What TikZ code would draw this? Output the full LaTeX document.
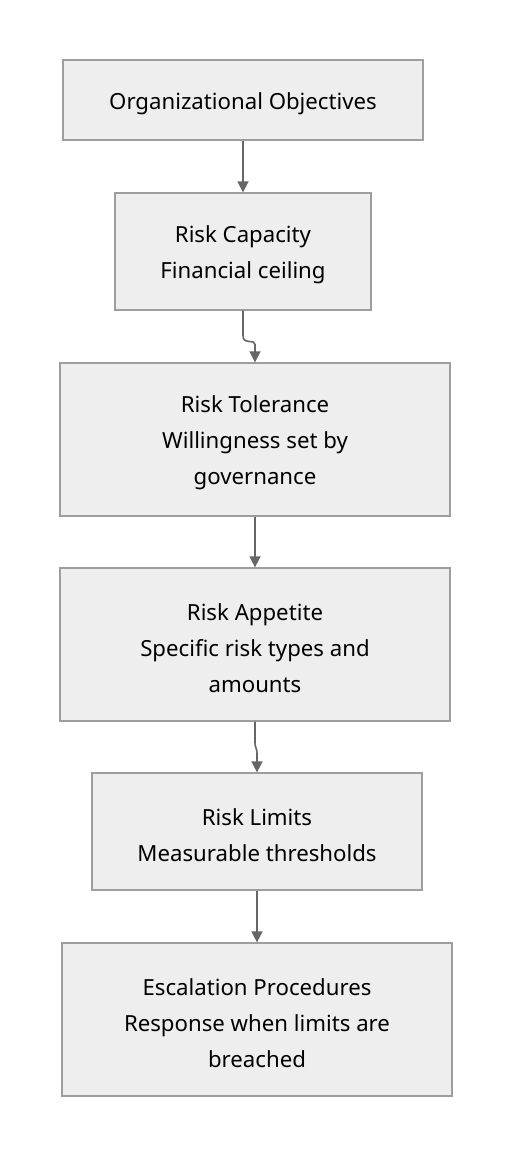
\documentclass[tikz,border=0pt]{standalone}
\usepackage{fontspec}
\setmainfont{Noto Sans}
\usetikzlibrary{arrows.meta,calc}
\definecolor{boxfill}{HTML}{EEEEEE}
\definecolor{boxline}{HTML}{9E9E9E}
\definecolor{arrowc}{HTML}{666666}
\begin{document}
\begin{tikzpicture}[x=1pt,y=-1pt,
  stepbox/.style={draw=boxline,fill=boxfill,line width=1.3pt,rectangle,inner sep=0pt},
  steptext/.style={align=center,font=\fontsize{22.2}{36}\selectfont,inner sep=0pt},
  flow/.style={draw=arrowc,line width=1.6pt,-{Triangle[width=11pt,length=11pt]}}]
\useasboundingbox (0,0) rectangle (512,1156);
\fill[white] (0,0) rectangle (512,1156);
\node[stepbox,minimum width=360pt,minimum height=80pt] (obj) at (243,100) {};
\node[stepbox,minimum width=256pt,minimum height=117pt] (cap) at (243,251.5) {};
\node[stepbox,minimum width=390pt,minimum height=153pt] (tol) at (255,439.5) {};
\node[stepbox,minimum width=390pt,minimum height=153pt] (app) at (255,644.5) {};
\node[stepbox,minimum width=330pt,minimum height=117pt] (lim) at (257,831.5) {};
\node[stepbox,minimum width=390pt,minimum height=153pt] (esc) at (257,1019.5) {};
\node[steptext] (objt) at ($(obj)+(0,3.5)$) {Organizational Objectives};
\node[steptext] (capt) at ($(cap)+(0,3.5)$) {Risk Capacity\\Financial ceiling};
\node[steptext] (tolt) at ($(tol)+(0,3.5)$) {Risk Tolerance\\Willingness set by\\governance};
\node[steptext] (appt) at ($(app)+(0,3.5)$) {Risk Appetite\\Specific risk types and\\amounts};
\node[steptext] (limt) at ($(lim)+(0,3.5)$) {Risk Limits\\Measurable thresholds};
\node[steptext] (esct) at ($(esc)+(0,3.5)$) {Escalation Procedures\\Response when limits are\\breached};
\draw[flow] (obj.south) -- (obj.south |- cap.north);
\draw[flow] (cap.south) -- ++(0,25) .. controls ++(0,10) and ++(0,-6) .. ($(tol.north)+(0,-18)$) -- (tol.north);
\draw[flow] (tol.south) -- (app.north -| tol.south);
\draw[flow] (app.south) -- ++(0,20) .. controls ++(0,8) and ++(0,-8) .. ($(lim.north)+(0,-18)$) -- (lim.north);
\draw[flow] (lim.south) -- (esc.north -| lim.south);
\end{tikzpicture}
\end{document}
